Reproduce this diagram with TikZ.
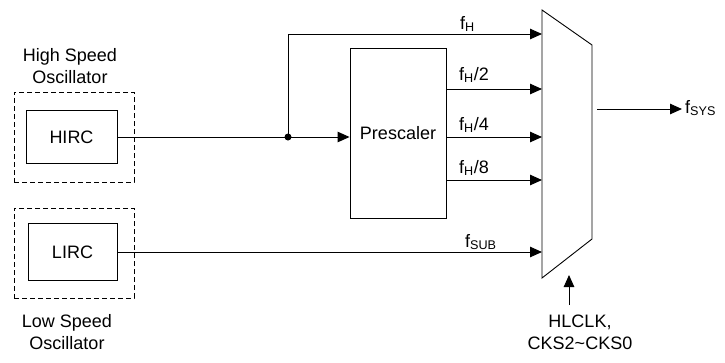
\documentclass[tikz,border=0pt]{standalone}
\usepackage{fontspec}
\setmainfont{Liberation Sans}
\usetikzlibrary{arrows.meta,positioning}

\begin{document}
\begin{tikzpicture}[
    x=1pt, y=-1pt,
    every node/.style={font=\fontsize{18}{22}\selectfont},
    block/.style={draw, line width=0.9pt, inner sep=0pt, align=center},
    osc/.style={draw, line width=0.9pt, dash pattern=on 5pt off 3pt, minimum width=120pt, minimum height=90pt},
    arr/.style={-{Triangle[length=12pt,width=10.5pt]}, line width=1pt},
    lbl/.style={anchor=base west, inner sep=0pt}
  ]
    \useasboundingbox (0,0) rectangle (725,362);

    % oscillators
    \node[osc] (hosc) at (74,137) {};
    \node[osc] (losc) at (74,253) {};
    \node[block, minimum width=91pt, minimum height=53pt] (hirc) at (71.5,137) {HIRC};
    \node[block, minimum width=89pt, minimum height=57pt] (lirc) at (72.5,252) {LIRC};
    \node[align=center] (htxt) at (70,66) {High Speed\\Oscillator};
    \node[align=center] (ltxt) at (67,332) {Low Speed\\Oscillator};

    \node[block, minimum width=96pt, minimum height=170pt] (presc) at (398,133) {\raisebox{-4pt}{Prescaler}};

    % multiplexer
    \draw[line width=0.9pt] (542,10) -- (592,45) -- (592,239) -- (542,278) -- cycle;
    \coordinate (in0) at (542,34);
    \coordinate (in1) at (542,89);
    \coordinate (in2) at (542,137);
    \coordinate (in3) at (542,180);
    \coordinate (in4) at (542,252);
    \coordinate (mo)  at (597,109);
    \coordinate (sel) at (569,275);
    \coordinate (jn)  at (288,137);

    \node[lbl] (fh)   at (460,29)  {f\textsubscript{H}};
    \node[lbl] (fh2)  at (459,80)  {f\textsubscript{H}/2};
    \node[lbl] (fh4)  at (459,130) {f\textsubscript{H}/4};
    \node[lbl] (fh8)  at (459,173) {f\textsubscript{H}/8};
    \node[lbl] (fsub) at (465,247) {f\textsubscript{SUB}};
    \node[lbl] (fsys) at (685,113) {f\textsubscript{SYS}};
    \node[align=center] (ctl) at (580,332) {HLCLK,\\CKS2\textasciitilde CKS0};

    \draw[line width=1pt] (hirc) -- (jn);
    \fill (jn) circle (3.5pt);
    \draw[arr] (jn) -- (presc.west |- jn);
    \draw[arr] (jn) |- (in0);
    \draw[arr] (presc.east |- in1) -- (in1);
    \draw[arr] (presc.east |- in2) -- (in2);
    \draw[arr] (presc.east |- in3) -- (in3);
    \draw[arr] (lirc) -- (in4);
    \draw[arr] (mo) -- ([xshift=-3pt]fsys.west |- mo);
    \draw[arr] ([yshift=6pt]ctl.north -| sel) -- (sel);
  \end{tikzpicture}
\end{document}
